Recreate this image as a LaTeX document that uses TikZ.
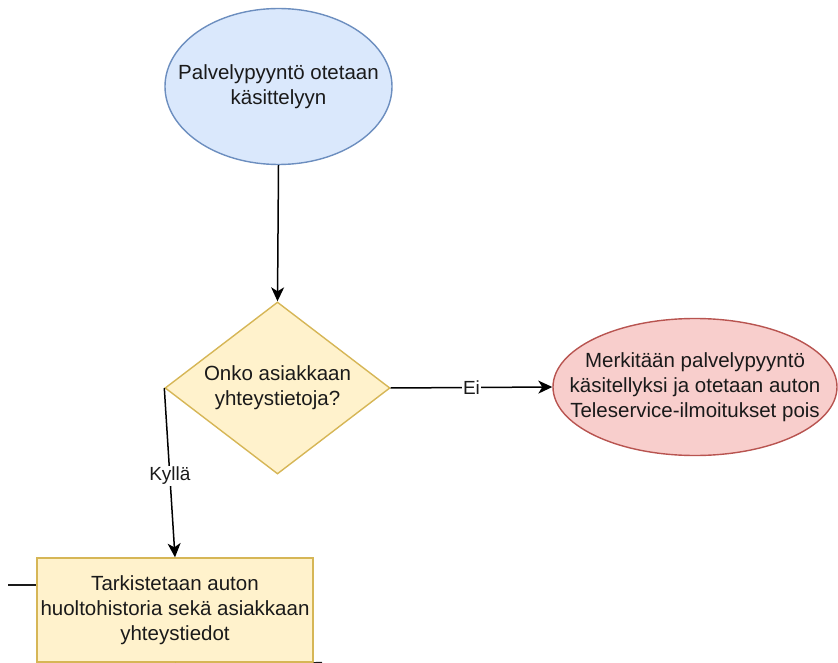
\documentclass[tikz,border=0pt]{standalone}
\usepackage{fontspec}
\setmainfont{Liberation Sans}
\usetikzlibrary{shapes.geometric,arrows.meta}

\definecolor{blueFill}{HTML}{DAE8FC}
\definecolor{blueLine}{HTML}{6C8EBF}
\definecolor{yellowFill}{HTML}{FFF2CC}
\definecolor{yellowLine}{HTML}{D6B656}
\definecolor{redFill}{HTML}{F8CECC}
\definecolor{redLine}{HTML}{B85450}
\definecolor{ink}{HTML}{1A1A1A}

\tikzset{
  shapebase/.style={line width=1.4pt, inner sep=0pt},
  startnode/.style={shapebase, ellipse, draw=blueLine, fill=blueFill,
    minimum width=227pt, minimum height=156pt},
  endnode/.style={shapebase, ellipse, draw=redLine, fill=redFill,
    minimum width=284pt, minimum height=137pt},
  decision/.style={shapebase, diamond, draw=yellowLine, fill=yellowFill,
    aspect=1.308, minimum width=225pt, minimum height=172pt},
  process/.style={shapebase, rectangle, draw=yellowLine, fill=yellowFill,
    minimum width=276pt, minimum height=104pt},
  bodytext/.style={align=center, text=ink, inner sep=0pt,
    font=\fontsize{20.5}{25}\selectfont},
  flow/.style={draw=black, line width=1.5pt,
    -{Stealth[length=14pt, width=13pt, inset=4pt]}},
  plainline/.style={draw=ink, line width=1.3pt},
  edgelabel/.style={fill=white, text=ink, inner sep=1.5pt,
    font=\fontsize{19}{22}\selectfont},
}

\begin{document}
\begin{tikzpicture}[x=1pt, y=-1pt]
  \useasboundingbox (0,0) rectangle (838,663);
  \clip (0,0) rectangle (838,663);

  % shapes
  \node[startnode] (start) at (278.5,86.5) {};
  \node[bodytext] (startText) at (start.center) {Palvelypyyntö otetaan\\käsittelyyn};

  \node[decision] (check) at (277.5,388) {};
  \node[bodytext] (checkText) at (check.center) {Onko asiakkaan\\yhteystietoja?};

  \node[endnode] (done) at (695,387) {};
  \node[bodytext] (doneText) at (done.center) {Merkitään palvelypyyntö\\käsitellyksi ja otetaan auton\\Teleservice-ilmoitukset pois};

  \node[process] (review) at (175,610) {};
  \node[bodytext] (reviewText) at (review.center) {Tarkistetaan auton\\huoltohistoria sekä asiakkaan\\yhteystiedot};

  % connectors
  \draw[flow] (start.south) -- (check.north);
  \draw[flow] (check.east) -- node[edgelabel] (noLabel) {Ei} (done.west);
  \draw[flow] (check.west) -- node[edgelabel, pos=0.52] (yesLabel) {Kyllä} (review.north);

  % connectors continuing beyond the visible area
  \coordinate (inLeft) at (8,585);
  \draw[plainline] (inLeft) -- (inLeft -| review.west);
  \coordinate (outBottom) at (175,672);
  \draw[plainline] (review.south) -- (outBottom);
  \coordinate (outRight) at (322,662.5);
  \draw[plainline] (review.south east) -- (outRight);
\end{tikzpicture}
\end{document}
